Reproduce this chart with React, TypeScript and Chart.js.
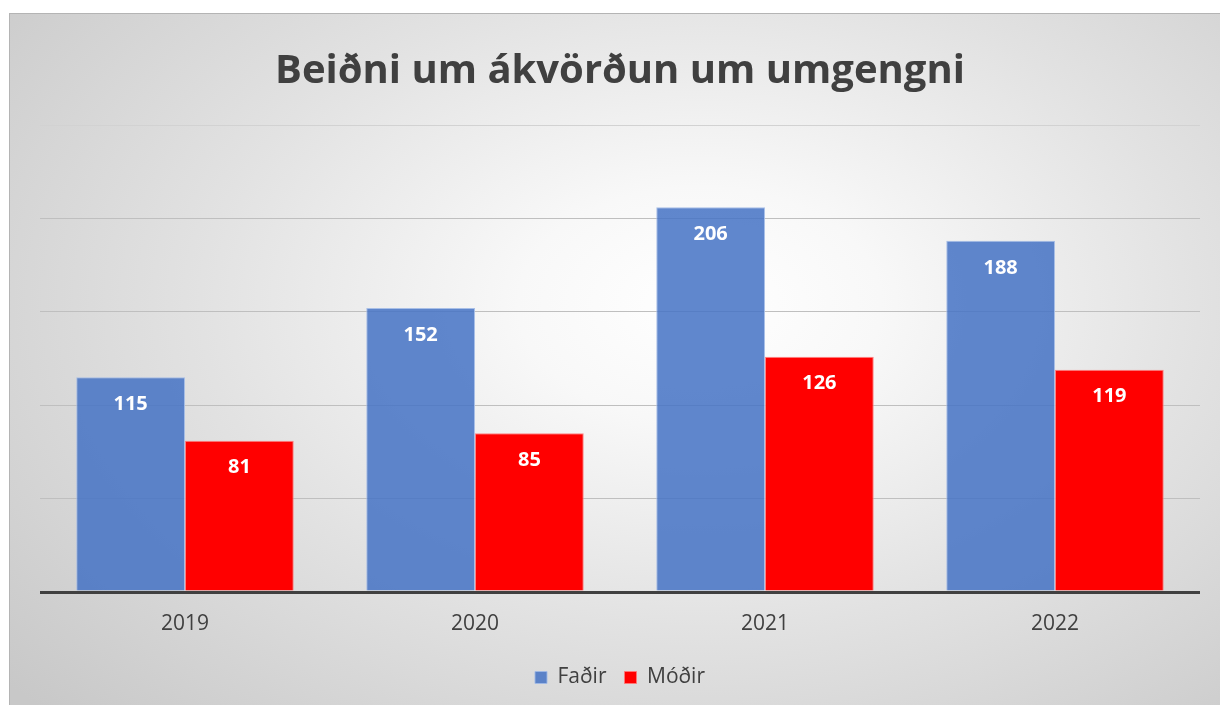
import React, { useEffect, useRef } from "react";
import { Chart, registerables } from "chart.js";

Chart.register(...registerables);

const title = "Beiðni um ákvörðun um umgengni";
const years = ["2019", "2020", "2021", "2022"];
const fathersLabel = "Faðir";
const mothersLabel = "Móðir";
const fathers = [115, 152, 206, 188];
const mothers = [81, 85, 126, 119];
const yTicks = [0, 50, 100, 150, 200, 250];

const FONT = "'Open Sans', 'DejaVu Sans', sans-serif";

const valueLabels = {
  id: "valueLabels",
  afterDatasetsDraw(chart: any) {
    const ctx = chart.ctx;
    ctx.save();
    ctx.fillStyle = "#ffffff";
    ctx.font = `bold 20px ${FONT}`;
    ctx.textAlign = "center";
    ctx.textBaseline = "middle";
    chart.data.datasets.forEach((ds: any, i: number) => {
      const meta = chart.getDatasetMeta(i);
      meta.data.forEach((el: any, j: number) => {
        ctx.fillText(String(ds.data[j]), el.x, el.y + 27);
      });
    });
    ctx.restore();
  },
};

export default function App() {
  const ref = useRef<HTMLCanvasElement | null>(null);
  useEffect(() => {
    if (!ref.current) return;
    const chart = new Chart(ref.current, {
      type: "bar",
      data: {
        labels: years,
        datasets: [
          {
            label: fathersLabel,
            data: fathers,
            backgroundColor: "rgba(68,114,196,0.85)",
            borderColor: "rgba(160,185,230,0.9)",
            borderWidth: 1,
            categoryPercentage: 0.75,
            barPercentage: 1,
          },
          {
            label: mothersLabel,
            data: mothers,
            backgroundColor: "#ff0000",
            borderColor: "rgba(255,120,120,0.9)",
            borderWidth: 1,
            categoryPercentage: 0.75,
            barPercentage: 1,
          },
        ],
      },
      options: {
        responsive: false,
        animation: false,
        layout: { padding: { left: 30, right: 20, top: 0, bottom: 7 } },
        plugins: {
          title: {
            display: true,
            text: title,
            color: "#404040",
            font: { family: FONT, size: 40, weight: "bold", lineHeight: 1.2 },
            padding: { top: 34, bottom: 29 },
          },
          legend: {
            display: true,
            position: "bottom",
            labels: {
              color: "#404040",
              font: { family: FONT, size: 21 },
              boxWidth: 12,
              boxHeight: 12,
              padding: 18,
            },
          },
          tooltip: { enabled: false },
        },
        scales: {
          x: {
            grid: { display: false, drawTicks: false },
            border: { display: false },
            ticks: {
              color: "#404040",
              font: { family: FONT, size: 21 },
              padding: 19,
            },
            afterFit: (scale: any) => {
              scale.height = 57;
            },
          },
          y: {
            min: 0,
            max: 250,
            afterBuildTicks: (scale: any) => {
              scale.ticks = yTicks.map((v) => ({ value: v }));
            },
            ticks: { display: false },
            border: { display: false },
            grid: {
              drawTicks: false,
              color: (c: any) =>
                c.tick && c.tick.value === 0
                  ? "#404040"
                  : c.tick && c.tick.value === 250
                  ? "#d2d2d2"
                  : "#bfbfbf",
              lineWidth: (c: any) => (c.tick && c.tick.value === 0 ? 3 : 1),
            },
          },
        },
      },
      plugins: [valueLabels],
    });
    return () => chart.destroy();
  }, []);

  return (
    <div
      style={{
        position: "absolute",
        left: 0,
        top: 0,
        width: 1220,
        height: 705,
        background: "#ffffff",
        overflow: "hidden",
      }}
    >
      <div
        style={{
          position: "absolute",
          left: 9,
          top: 13,
          width: 1211,
          height: 692,
          boxSizing: "border-box",
          borderTop: "1px solid #b4b4b4",
          borderLeft: "1px solid #b4b4b4",
          background:
            "radial-gradient(ellipse 75% 85% at 57% 42%, #ffffff 0%, #f8f8f8 20%, #e2e2e2 55%, #c8c8c8 100%)",
        }}
      >
        <canvas ref={ref} width={1210} height={691} style={{ display: "block" }} />
      </div>
    </div>
  );
}
